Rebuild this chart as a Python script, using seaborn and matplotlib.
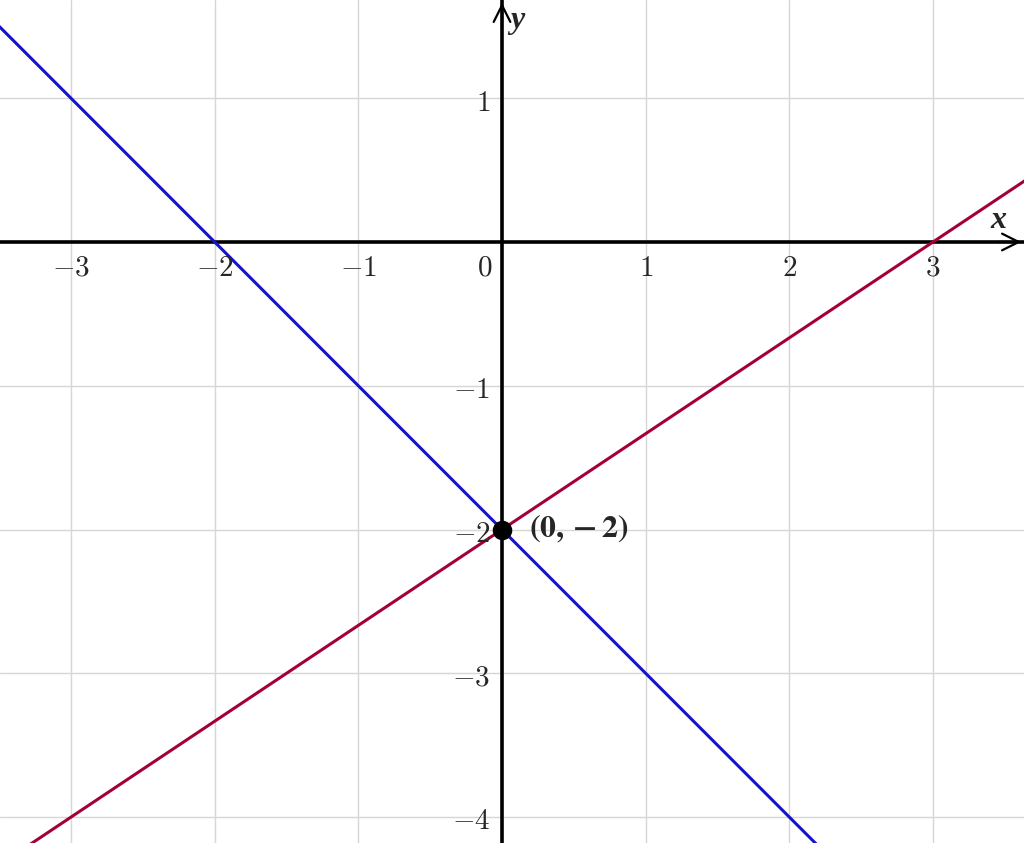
import numpy as np
import pandas as pd
import seaborn as sns
import matplotlib.pyplot as plt

# line endpoints
blue_x = [-3.6, 2.3]
blue_y = [1.6, -4.3]
red_x = [-3.6, 3.7]
red_y = [-4.4, 0.467]

point_x = [0]
point_y = [-2]
point_label = r'$\mathbf{(0,-2)}$'

x_ticks = [-3, -2, -1, 1, 2, 3]
y_ticks = [-4, -3, -2, -1, 1]

sns.set_theme(style='white')
plt.rcParams['mathtext.fontset'] = 'cm'
plt.rcParams['font.family'] = ['DejaVu Serif']

fig = plt.figure(figsize=(10.24, 8.43), dpi=100)
ax = fig.add_axes([0, 0, 1, 1])

xmin, xmax = -3.494, 3.633
ymin, ymax = -4.18, 1.683
ax.set_xlim(xmin, xmax)
ax.set_ylim(ymin, ymax)

# grid
for v in range(-4, 4):
    ax.axvline(v, color='#d6d6d6', lw=1, zorder=0)
for v in range(-5, 2):
    ax.axhline(v, color='#d6d6d6', lw=1, zorder=0)

df_blue = pd.DataFrame({'x': blue_x, 'y': blue_y})
df_red = pd.DataFrame({'x': red_x, 'y': red_y})
sns.lineplot(data=df_blue, x='x', y='y', color='#1414cc', lw=2.2, ax=ax, zorder=3)
sns.lineplot(data=df_red, x='x', y='y', color='#a3003b', lw=2.2, ax=ax, zorder=3)

# axes through origin
ax.axhline(0, color='black', lw=2.6, zorder=2)
ax.axvline(0, color='black', lw=2.6, zorder=2)
ax.annotate('', xy=(xmax, 0), xytext=(xmax - 0.2, 0),
            arrowprops=dict(arrowstyle='->', color='black', lw=1.6, mutation_scale=30))
ax.annotate('', xy=(0, ymax), xytext=(0, ymax - 0.2),
            arrowprops=dict(arrowstyle='->', color='black', lw=1.6, mutation_scale=30))

sns.scatterplot(x=point_x, y=point_y, color='black', s=170, ax=ax, zorder=5,
                edgecolor='black')
ax.text(point_x[0] + 0.19, point_y[0], point_label, fontsize=23,
        math_fontfamily='stix', ha='left', va='center', zorder=6)

# tick labels
for t in x_ticks:
    ax.text(t, -0.18, r'$%d$' % t, fontsize=21, ha='center', va='center')
for t in y_ticks:
    ax.text(-0.08, t - 0.03, r'$%d$' % t, fontsize=21, ha='right', va='center')
ax.text(-0.12, -0.18, r'$0$', fontsize=21, ha='center', va='center')

ax.text(xmax - 0.18, 0.05, 'x', fontsize=23, fontweight='bold', fontstyle='italic',
        family='Liberation Serif', ha='center', va='bottom')
ax.text(0.11, ymax - 0.14, 'y', fontsize=23, fontweight='bold', fontstyle='italic',
        family='Liberation Serif', ha='center', va='center')

ax.set_xticks([])
ax.set_yticks([])
for s in ax.spines.values():
    s.set_visible(False)
ax.set_xlabel('')
ax.set_ylabel('')

fig.savefig('out.png', dpi=100)
